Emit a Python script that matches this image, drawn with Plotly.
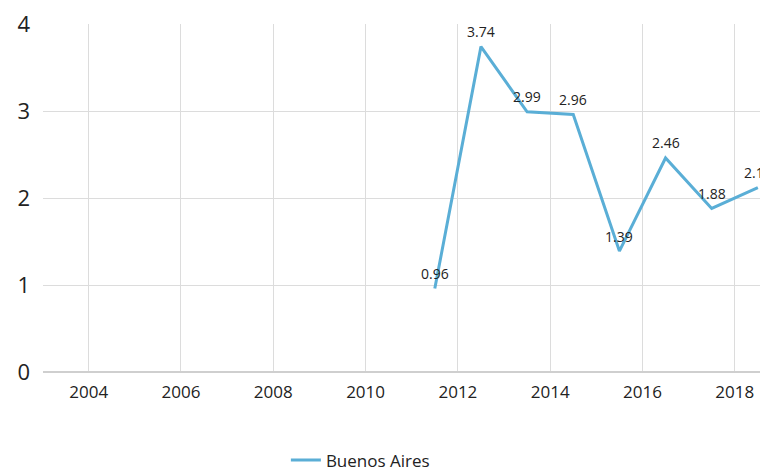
import plotly.graph_objects as go

years = [2011.5, 2012.5, 2013.5, 2014.5, 2015.5, 2016.5, 2017.5, 2018.5]
values = [0.96, 3.74, 2.99, 2.96, 1.39, 2.46, 1.88, 2.12]
labels = ["0.96", "3.74", "2.99", "2.96", "1.39", "2.46", "1.88", "2.12"]
x_ticks = [2004, 2006, 2008, 2010, 2012, 2014, 2016, 2018]
y_ticks = [0, 1, 2, 3, 4]

font = "Open Sans, Noto Sans, sans-serif"

fig = go.Figure()
fig.add_trace(go.Scatter(
    x=years, y=values, mode="lines", name="Buenos Aires",
    line=dict(color="#5aaed6", width=3),
    cliponaxis=False,
))

# value labels above each point
for x, y, t in zip(years, values, labels):
    fig.add_annotation(x=x, y=y, text=t, showarrow=False, yshift=15,
                       font=dict(size=14, color="#222", family=font))

# page body has an 8px margin, so the figure is offset by 8px;
# extra height below keeps the legend from pushing the margins
fig.update_layout(
    width=760, height=480,
    margin=dict(l=35, r=0, t=16, b=116),
    paper_bgcolor="white", plot_bgcolor="white",
    font=dict(family=font, color="#222"),
    showlegend=True,
    legend=dict(orientation="h", x=0.335, xanchor="left", y=-0.254, yanchor="middle",
                font=dict(size=17, color="#222")),
    xaxis=dict(range=[2003.01, 2018.72], tickvals=x_ticks, showgrid=True,
               gridcolor="#dcdcdc", gridwidth=1, zeroline=False, showline=False,
               ticks="", tickfont=dict(size=17), ticklabelstandoff=8,
               automargin=False, ticklabeloverflow="allow"),
    yaxis=dict(range=[0, 4], tickvals=y_ticks, showgrid=True,
               gridcolor="#dcdcdc", gridwidth=1, zeroline=True,
               zerolinecolor="#cfcfcf", zerolinewidth=2,
               showline=False, ticks="", tickfont=dict(size=22),
               ticklabelstandoff=12, automargin=False,
               ticklabeloverflow="allow"),
)

fig.write_html("out.html")
